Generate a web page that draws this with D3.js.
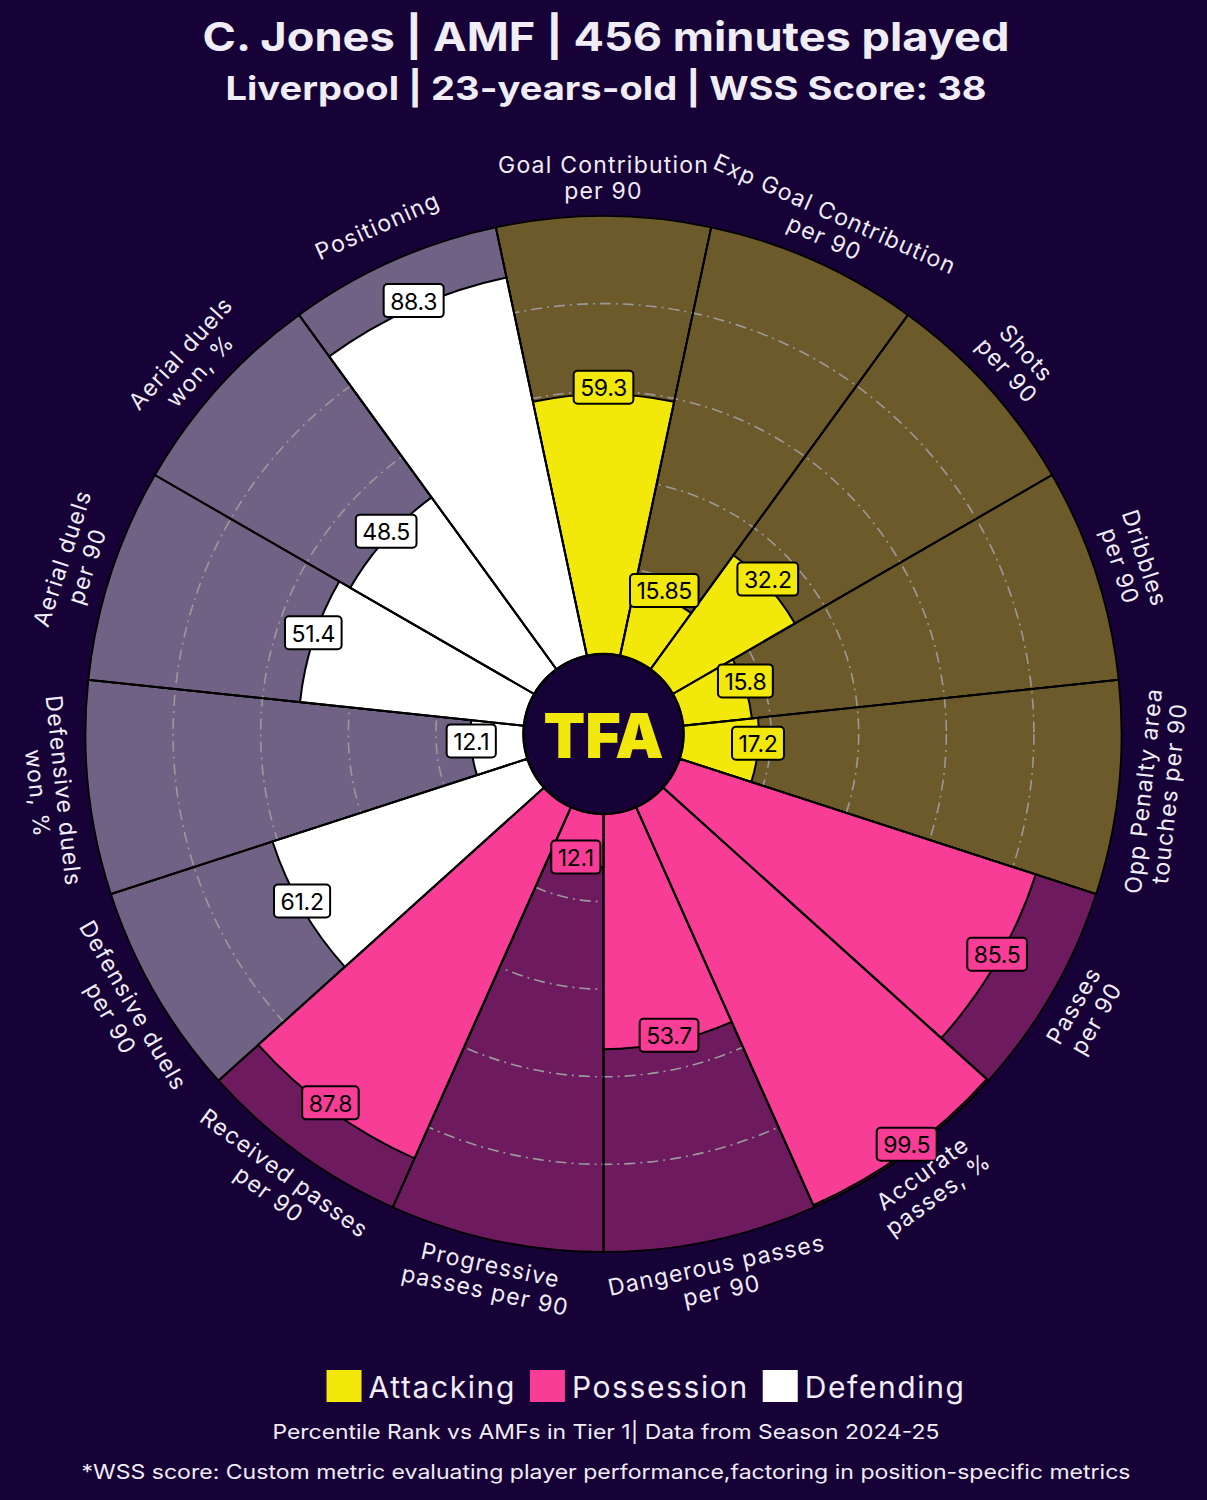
<!DOCTYPE html>
<html>
<head>
<meta charset="utf-8">
<script src="https://cdn.jsdelivr.net/npm/d3@7"></script>
<style>
  html, body { margin: 0; padding: 0; background: #170238; }
  svg { display: block; }
</style>
</head>
<body>
<svg id="chart" width="1207" height="1500"></svg>
<script>
// ---------- data ----------
const params = [
  "Goal Contribution\nper 90",
  "Exp Goal Contribution\nper 90",
  "Shots\nper 90",
  "Dribbles\nper 90",
  "Opp Penalty area\ntouches per 90",
  "Passes\nper 90",
  "Accurate\npasses, %",
  "Dangerous passes\nper 90",
  "Progressive\npasses per 90",
  "Received passes\nper 90",
  "Defensive duels\nper 90",
  "Defensive duels\nwon, %",
  "Aerial duels\nper 90",
  "Aerial duels\nwon, %",
  "Positioning"
];
const values = [59.3, 15.85, 32.2, 15.8, 17.2, 85.5, 99.5, 53.7, 12.1, 87.8, 61.2, 12.1, 51.4, 48.5, 88.3];
const valueLabels = ["59.3", "15.85", "32.2", "15.8", "17.2", "85.5", "99.5", "53.7", "12.1", "87.8", "61.2", "12.1", "51.4", "48.5", "88.3"];
const groups = ["Attacking","Attacking","Attacking","Attacking","Attacking",
                "Possession","Possession","Possession","Possession","Possession",
                "Defending","Defending","Defending","Defending","Defending"];
const groupNames = ["Attacking", "Possession", "Defending"];
const gridTicks = [20, 40, 60, 80];

const titleText = "C. Jones | AMF | 456 minutes played";
const subtitleText = "Liverpool | 23-years-old | WSS Score: 38";
const footer1 = "Percentile Rank vs AMFs in Tier 1| Data from Season 2024-25";
const footer2 = "*WSS score: Custom metric evaluating player performance,factoring in position-specific metrics";

// ---------- styles ----------
const BG = "#170238";
const fillColor = d3.scaleOrdinal().domain(groupNames).range(["#f2e80a", "#f73d96", "#ffffff"]);
const slabColor = d3.scaleOrdinal().domain(groupNames).range(["#6d5a2a", "#6d1a5e", "#6f6284"]);
const TEXT = "#f1edf6";
const FONT = "Inter, 'Open Sans', sans-serif";

const W = 1207, cx = 603.5, cy = 734;
const innerR = 80, outerR = 518;
const n = params.length;
const step = 360 / n;

const svg = d3.select("#chart");
svg.append("rect").attr("width", W).attr("height", 1500).attr("fill", BG);

const r = d3.scaleLinear().domain([0, 100]).range([innerR, outerR]);
const ang = d3.scaleLinear().domain([0, n]).range([-step / 2, 360 - step / 2]); // degrees
const rad = d => d * Math.PI / 180;

const g = svg.append("g").attr("transform", `translate(${cx},${cy})`);
const arc = d3.arc();

const idx = d3.range(n);

// background slabs
g.selectAll("path.slab").data(idx).join("path")
  .attr("class", "slab")
  .attr("d", i => arc({innerRadius: innerR, outerRadius: r(100), startAngle: rad(ang(i)), endAngle: rad(ang(i + 1))}))
  .attr("fill", i => slabColor(groups[i]))
  .attr("stroke", "#000").attr("stroke-width", 1.8);

// grid circles
g.selectAll("circle.grid").data(gridTicks).join("circle")
  .attr("class", "grid")
  .attr("r", d => r(d))
  .attr("fill", "none")
  .attr("stroke", "#9a9a9a")
  .attr("stroke-width", 1.6)
  .attr("stroke-dasharray", "11,5,2,5");

// value bars
g.selectAll("path.bar").data(idx).join("path")
  .attr("class", "bar")
  .attr("d", i => arc({innerRadius: innerR, outerRadius: r(values[i]), startAngle: rad(ang(i)), endAngle: rad(ang(i + 1))}))
  .attr("fill", i => fillColor(groups[i]))
  .attr("stroke", "#000").attr("stroke-width", 2);

// slice separators over full radius
g.selectAll("line.sep").data(idx).join("line")
  .attr("class", "sep")
  .attr("x1", i => innerR * Math.sin(rad(ang(i))))
  .attr("y1", i => -innerR * Math.cos(rad(ang(i))))
  .attr("x2", i => r(100) * Math.sin(rad(ang(i))))
  .attr("y2", i => -r(100) * Math.cos(rad(ang(i))))
  .attr("stroke", "#000").attr("stroke-width", 2);

// centre circle + logo
g.append("circle").attr("r", innerR).attr("fill", BG).attr("stroke", "#000").attr("stroke-width", 2.5);
g.append("text").text("TFA")
  .attr("x", 0).attr("y", 1)
  .attr("text-anchor", "middle").attr("dominant-baseline", "central")
  .attr("font-family", "Inter, 'DejaVu Sans', sans-serif")
  .attr("font-weight", 900).attr("font-size", 62)
  .attr("textLength", 120).attr("lengthAdjust", "spacingAndGlyphs")
  .attr("fill", "#f2e80a");

// value labels
const vl = g.selectAll("g.vlabel").data(idx).join("g")
  .attr("class", "vlabel")
  .attr("transform", i => {
    const a = rad(ang(i + 0.5)), rr = r(values[i]);
    return `translate(${rr * Math.sin(a)},${-rr * Math.cos(a) - 7})`;
  });
vl.each(function(i) {
  const sel = d3.select(this);
  const rect = sel.append("rect");
  const t = sel.append("text").text(valueLabels[i])
    .attr("text-anchor", "middle").attr("dominant-baseline", "central")
    .attr("font-family", FONT).attr("font-size", 23).attr("fill", "#000")
    .attr("letter-spacing", -0.3).attr("y", 1);
  const w = t.node().getComputedTextLength() + 13;
  rect.attr("x", -w / 2).attr("y", -16.5).attr("width", w).attr("height", 33)
    .attr("rx", 4).attr("fill", fillColor(groups[i])).attr("stroke", "#000").attr("stroke-width", 2);
});

// parameter labels
const labelR = 556, lh = 26;
g.selectAll("text.param").data(idx).join("text")
  .attr("class", "param")
  .attr("transform", i => {
    const deg = ang(i + 0.5);
    const a = rad(deg);
    const norm = ((deg % 360) + 360) % 360;
    const rot = (norm > 90 && norm < 270) ? norm - 180 : (norm > 270 ? norm - 360 : norm);
    return `translate(${labelR * Math.sin(a)},${-labelR * Math.cos(a)}) rotate(${rot})`;
  })
  .attr("text-anchor", "middle")
  .attr("font-family", FONT).attr("font-size", 23).attr("fill", TEXT)
  .attr("letter-spacing", 1.2)
  .each(function(i) {
    const lines = params[i].split("\n");
    const sel = d3.select(this);
    lines.forEach((ln, k) => {
      sel.append("tspan").attr("x", 0)
        .attr("y", (k - (lines.length - 1) / 2) * lh)
        .attr("dominant-baseline", "central")
        .text(ln);
    });
  });

// titles
svg.append("text").text(titleText)
  .attr("x", 606).attr("y", 51).attr("text-anchor", "middle")
  .attr("font-family", FONT).attr("font-weight", 700).attr("font-size", 40)
  .attr("textLength", 807).attr("lengthAdjust", "spacingAndGlyphs")
  .attr("fill", TEXT);
svg.append("text").text(subtitleText)
  .attr("x", 606).attr("y", 100).attr("text-anchor", "middle")
  .attr("font-family", FONT).attr("font-weight", 700).attr("font-size", 33)
  .attr("textLength", 761).attr("lengthAdjust", "spacingAndGlyphs")
  .attr("fill", TEXT);

// legend
const leg = svg.append("g");
let lx = 0;
groupNames.forEach(name => {
  const item = leg.append("g");
  item.append("rect").attr("x", 0).attr("y", -16).attr("width", 35).attr("height", 32)
    .attr("fill", fillColor(name));
  const t = item.append("text").text(name).attr("x", 42).attr("y", 1)
    .attr("dominant-baseline", "central")
    .attr("font-family", FONT).attr("font-size", 30).attr("fill", TEXT)
    .attr("letter-spacing", 1.6);
  const w = 42 + t.node().getComputedTextLength();
  item.attr("transform", `translate(${lx},0)`);
  lx += w + 14;
});
const legW = lx - 14;
leg.attr("transform", `translate(${646 - legW / 2},1386)`);

svg.append("text").text(footer1)
  .attr("x", 606).attr("y", 1439).attr("text-anchor", "middle")
  .attr("font-family", FONT).attr("font-size", 20).attr("fill", TEXT)
  .attr("textLength", 667).attr("lengthAdjust", "spacingAndGlyphs");
svg.append("text").text(footer2)
  .attr("x", 606).attr("y", 1479).attr("text-anchor", "middle")
  .attr("font-family", FONT).attr("font-size", 20).attr("fill", TEXT)
  .attr("textLength", 1049).attr("lengthAdjust", "spacingAndGlyphs");
</script>
</body>
</html>
